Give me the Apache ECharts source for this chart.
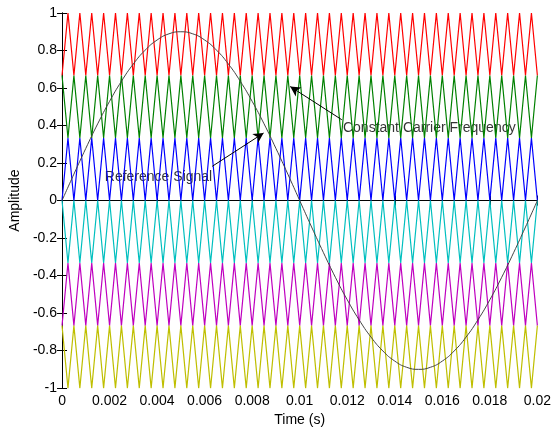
<!DOCTYPE html>
<html>
<head>
<meta charset="utf-8">
<script src="https://cdn.jsdelivr.net/npm/echarts@6/dist/echarts.min.js"></script>
<style>html,body{margin:0;padding:0;background:#fff}#c{width:554px;height:432px}</style>
</head>
<body>
<div id="c"></div>
<script>
// ---- data ----
const xTickLabels = ['0','0.002','0.004','0.006','0.008','0.01','0.012','0.014','0.016','0.018','0.02'];
const yTickLabels = ['-1','-0.8','-0.6','-0.4','-0.2','0','0.2','0.4','0.6','0.8','1'];

// carrier vertex times (2000 Hz triangle carriers, 40 cycles)
const carrierTimes = [0,0.00025,0.0005,0.00075,0.001,0.00125,0.0015,0.00175,0.002,0.00225,0.0025,0.00275,0.003,0.00325,0.0035,0.00375,0.004,0.00425,0.0045,0.00475,0.005,0.00525,0.0055,0.00575,0.006,0.00625,0.0065,0.00675,0.007,0.00725,0.0075,0.00775,0.008,0.00825,0.0085,0.00875,0.009,0.00925,0.0095,0.00975,0.01,0.01025,0.0105,0.01075,0.011,0.01125,0.0115,0.01175,0.012,0.01225,0.0125,0.01275,0.013,0.01325,0.0135,0.01375,0.014,0.01425,0.0145,0.01475,0.015,0.01525,0.0155,0.01575,0.016,0.01625,0.0165,0.01675,0.017,0.01725,0.0175,0.01775,0.018,0.01825,0.0185,0.01875,0.019,0.01925,0.0195,0.01975,0.02];
const carrierNames = ['Carrier 1','Carrier 2','Carrier 3','Carrier 4','Carrier 5','Carrier 6'];
const carrierLow  = [0.6667, 0.3333, 0, -0.3333, -0.6667, -1];
const carrierHigh = [1, 0.6667, 0.3333, 0, -0.3333, -0.6667];
const carrierStartsLow = [true, false, true, false, true, false];

// reference signal samples
const refTimes = [0,0.0005,0.001,0.0015,0.002,0.0025,0.003,0.0035,0.004,0.0045,0.005,0.0055,0.006,0.0065,0.007,0.0075,0.008,0.0085,0.009,0.0095,0.01,0.0105,0.011,0.0115,0.012,0.0125,0.013,0.0135,0.014,0.0145,0.015,0.0155,0.016,0.0165,0.017,0.0175,0.018,0.0185,0.019,0.0195,0.02];
const refValues = [0,0.141,0.278,0.409,0.529,0.636,0.728,0.802,0.856,0.889,0.9,0.889,0.856,0.802,0.728,0.636,0.529,0.409,0.278,0.141,0,-0.141,-0.278,-0.409,-0.529,-0.636,-0.728,-0.802,-0.856,-0.889,-0.9,-0.889,-0.856,-0.802,-0.728,-0.636,-0.529,-0.409,-0.278,-0.141,0];

const annotationTexts = ['Constant Carrier Frequency', 'Reference Signal'];
const annotationAt = [[0.01182, 0.388], [0.0018, 0.125]];
const arrowFrom = [[0.01177, 0.431], [0.00632, 0.1825]];
const arrowTo   = [[0.0096, 0.608], [0.00848, 0.36]];

// ---- styles ----
const carrierColors = ['#ff0000','#008000','#0000ff','#00bfbf','#bf00bf','#bfbf00'];
const FONT = '"Liberation Sans", Arial, sans-serif';

const series = [];
carrierNames.forEach((name, b) => {
  series.push({
    name, type: 'line', showSymbol: false, symbol: 'none', silent: true,
    lineStyle: { color: carrierColors[b], width: 1.2 },
    data: carrierTimes.map((t, i) => [t, ((i % 2 === 0) === carrierStartsLow[b]) ? carrierLow[b] : carrierHigh[b]])
  });
});
series.push({
  name: 'Reference', type: 'line', smooth: true, showSymbol: false, symbol: 'none', silent: true,
  lineStyle: { color: '#444444', width: 1 },
  data: refTimes.map((t, i) => [t, refValues[i]]),
  markLine: {
    silent: true, symbol: ['none', 'arrow'], symbolSize: [8, 10],
    label: { show: false },
    lineStyle: { color: '#000', width: 1, type: 'solid' },
    data: arrowFrom.map((f, i) => [{ coord: f }, { coord: arrowTo[i] }])
  }
});
series.push({
  name: 'Annotations', type: 'scatter', symbolSize: 0, silent: true,
  data: annotationAt.map((p, i) => ({ value: p, name: annotationTexts[i] })),
  label: { show: true, position: 'right', distance: 0, formatter: p => p.name,
           color: '#000', fontSize: 14, fontFamily: FONT }
});

const axisCommon = {
  axisLine: { show: true, lineStyle: { color: '#000', width: 1 } },
  axisTick: { show: true, inside: true, length: 5, lineStyle: { color: '#000' } },
  splitLine: { show: false }
};

const option = {
  animation: false,
  backgroundColor: '#fff',
  grid: { left: 61, right: 16, top: 13, bottom: 43 },
  xAxis: [
    Object.assign({
      type: 'value', min: 0, max: 0.02, interval: 0.002, position: 'bottom',
      name: 'Time (s)', nameLocation: 'middle', nameGap: 24,
      nameTextStyle: { color: '#000', fontSize: 14, fontFamily: FONT },
      axisLabel: { color: '#000', fontSize: 14, fontFamily: FONT, margin: 6,
        formatter: v => xTickLabels[Math.round(v / 0.002)] }
    }, axisCommon),
    Object.assign({
      type: 'value', min: 0, max: 0.02, interval: 0.002, position: 'top',
      axisLabel: { show: false }
    }, axisCommon)
  ],
  yAxis: [
    Object.assign({
      type: 'value', min: -1, max: 1, interval: 0.2, position: 'left',
      name: 'Amplitude', nameLocation: 'middle', nameGap: 37, nameRotate: 90,
      nameTextStyle: { color: '#000', fontSize: 14, fontFamily: FONT },
      axisLabel: { color: '#000', fontSize: 14, fontFamily: FONT, margin: 5,
        formatter: v => yTickLabels[Math.round((v + 1) / 0.2)] }
    }, axisCommon),
    Object.assign({
      type: 'value', min: -1, max: 1, interval: 0.2, position: 'right',
      axisLabel: { show: false }
    }, axisCommon)
  ],
  series
};

const chart = echarts.init(document.getElementById('c'), null, { renderer: 'canvas' });
chart.setOption(option);
</script>
</body>
</html>
